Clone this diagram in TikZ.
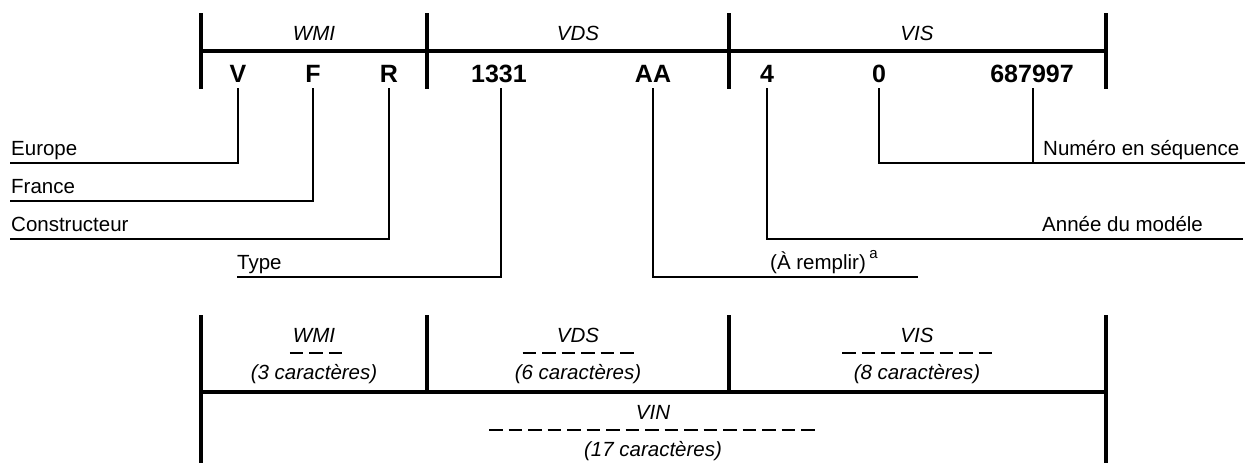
\documentclass[tikz,border=0pt]{standalone}
\usepackage{fontspec}
\setmainfont{Liberation Sans}
\begin{document}
\begin{tikzpicture}[x=1pt,y=-1pt,
  bar/.style={line width=3.6pt},
  lead/.style={line width=2.2pt},
  dsh/.style={line width=1.8pt, dash pattern=on 13.5pt off 6pt},
  big/.style={font=\fontsize{25}{28}\selectfont\bfseries, inner sep=0, anchor=base},
  ital/.style={font=\fontsize{20.5}{23}\selectfont\itshape, inner sep=0, anchor=base},
  lab/.style={font=\fontsize{20.5}{23}\selectfont, inner sep=0, anchor=base west}]
\useasboundingbox (0,0) rectangle (1245,463);

% ---------- top frame ----------
\draw[bar] (201,13) -- (201,89);
\draw[bar] (427,13) -- (427,89);
\draw[bar] (729,13) -- (729,89);
\draw[bar] (1106,13) -- (1106,89);
\draw[bar] (201,51) -- (1106,51);

\node[ital] (tWMI) at (314,40) {WMI};
\node[ital] (tVDS) at (578,40) {VDS};
\node[ital] (tVIS) at (917,40) {VIS};

\node[big] (V)  at (238,82) {V};
\node[big] (F)  at (313,82) {F};
\node[big] (R)  at (389,82) {R};
\node[big] (T)  at (499,82) {1331};
\node[big] (AA) at (653,82) {AA};
\node[big] (Y)  at (767,82) {4};
\node[big] (Z)  at (879,82) {0};
\node[big] (S)  at (1032,82) {687997};

% ---------- labels ----------
\node[lab] (lEu)  at (11,155) {Europe};
\node[lab] (lFr)  at (11,193) {France};
\node[lab] (lCo)  at (11,231) {Constructeur};
\node[lab] (lTy)  at (237,269) {Type};
\node[lab] (lRe)  at (770,269) {(À remplir)\,\raisebox{0.5em}{\fontsize{15}{15}\selectfont a}};
\node[lab] (lAn)  at (1042,231) {Année du modéle};
\node[lab] (lNu)  at (1043,155) {Numéro en séquence};

\coordinate (eEu) at (10,163);
\coordinate (eFr) at (10,201);
\coordinate (eCo) at (10,239);
\coordinate (eTy) at (237,277);
\coordinate (eRe) at (918,277);
\coordinate (eAn) at (1243,239);
\coordinate (eNu) at (1245,163);
\coordinate (cNu) at (1033,163);

\draw[lead] ([yshift=-6pt]V.base) |- (eEu);
\draw[lead] ([yshift=-6pt]F.base) |- (eFr);
\draw[lead] ([yshift=-6pt]R.base) |- (eCo);
\draw[lead] ([xshift=2pt,yshift=-6pt]T.base) |- (eTy);
\draw[lead] ([yshift=-6pt]AA.base) |- (eRe);
\draw[lead] ([yshift=-6pt]Y.base) |- (eAn);
\draw[lead] ([yshift=-6pt]Z.base) |- (eNu);
\draw[lead] ([xshift=1pt,yshift=-6pt]S.base) -- (cNu);

% ---------- bottom frame ----------
\draw[bar] (201,315) -- (201,463);
\draw[bar] (427,315) -- (427,392);
\draw[bar] (729,315) -- (729,392);
\draw[bar] (1106,315) -- (1106,463);
\draw[bar] (201,392) -- (1106,392);

\node[ital] (bWMI) at (314,342) {WMI};
\draw[dsh] (289.75,353) -- (342.25,353);
\node[ital] (cWMI) at (314,379) {(3 caractères)};

\node[ital] (bVDS) at (578,342) {VDS};
\draw[dsh] (522.5,353) -- (633.5,353);
\node[ital] (cVDS) at (578,379) {(6 caractères)};

\node[ital] (bVIS) at (917,342) {VIS};
\draw[dsh] (842,353) -- (992,353);
\node[ital] (cVIS) at (917,379) {(8 caractères)};

\node[ital] (bVIN) at (653,419) {VIN};
\draw[dsh] (489,430) -- (814.5,430);
\node[ital] (cVIN) at (653,456) {(17 caractères)};
\end{tikzpicture}
\end{document}
